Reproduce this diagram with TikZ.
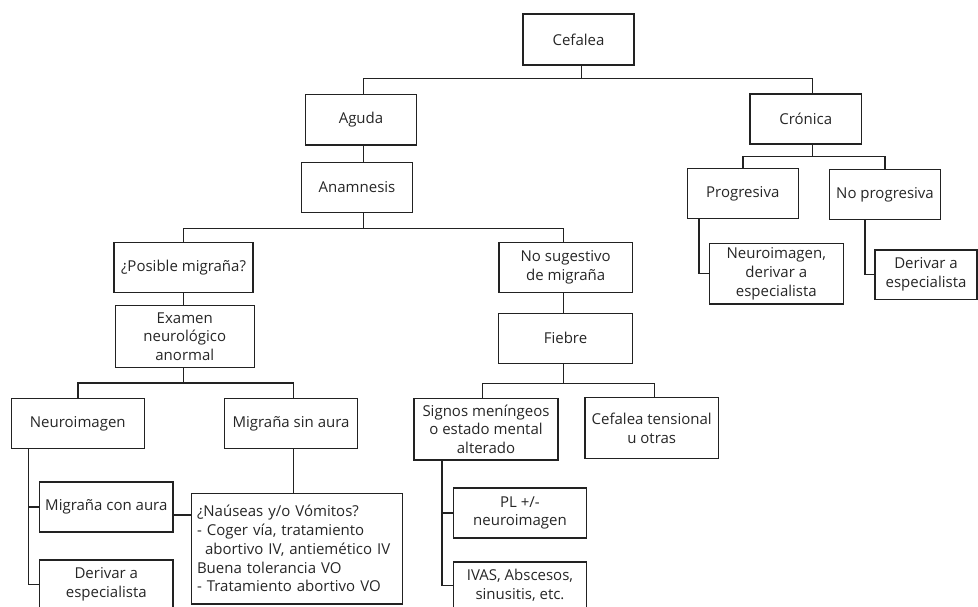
\documentclass[tikz,border=0pt]{standalone}
\usepackage{fontspec}
\setmainfont{Open Sans}
\definecolor{linec}{HTML}{222222}
\definecolor{textc}{HTML}{262626}
\begin{document}
\begin{tikzpicture}[x=1pt,y=-1pt,
  box/.style={draw=linec, line width=1.5pt, rectangle, inner sep=1pt, align=center,
    font=\fontsize{15}{18.7}\selectfont, text=textc},
  conn/.style={draw=linec, line width=1.4pt}]
\useasboundingbox (0,0) rectangle (978,607);
\clip (0,0) rectangle (978,607);
% nodes
\node[box, minimum width=111pt, minimum height=51pt] (cef) at (578.5,39.5) {Cefalea};
\node[box, minimum width=111.4pt, minimum height=50.3pt] (agu) at (361,119.8) {Aguda};
\node[box, minimum width=111.4pt, minimum height=50pt] (ana) at (357,187.3) {Anamnesis};
\node[box, minimum width=139pt, minimum height=50.4pt] (pos) at (183.5,267.5) {¿Posible migraña?};
\node[box, minimum width=133.3pt, minimum height=50pt] (nos) at (565.7,267.3) {No sugestivo\\de migraña};
\node[box, minimum width=111.7pt, minimum height=50pt] (cro) at (805.8,119) {Crónica};
\node[box, minimum width=111pt, minimum height=50pt] (pro) at (742.8,193.7) {Progresiva};
\node[box, minimum width=111.4pt, minimum height=50pt] (npr) at (885,194.3) {No progresiva};
\node[box, minimum width=134pt, minimum height=60.7pt] (nde) at (776.3,273.7) {Neuroimagen,\\derivar a\\especialista};
\node[box, minimum width=102pt, minimum height=49.3pt] (der2) at (926,274.6) {Derivar a\\especialista};
\node[box, minimum width=139pt, minimum height=61.6pt] (exa) at (184.8,336.5) {Examen\\neurológico\\anormal};
\node[box, minimum width=133pt, minimum height=50.4pt] (neu) at (77.8,423.5) {Neuroimagen};
\node[box, minimum width=133.4pt, minimum height=50.4pt] (msa) at (291,423.5) {Migraña sin aura};
\node[box, minimum width=133.3pt, minimum height=50pt] (mca) at (106.3,507) {Migraña con aura};
\node[box, minimum width=133.3pt, minimum height=49pt] (der1) at (106.3,584.5) {Derivar a\\especialista};
\node[box, minimum width=210.6pt, minimum height=110.7pt, align=left, text width=200pt, inner sep=4pt] (nau) at (297,548.7)
  {¿Naúseas y/o Vómitos?\\- Coger vía, tratamiento\\\hspace*{8pt}abortivo IV, antiemético IV\\Buena tolerancia VO\\- Tratamiento abortivo VO};
\node[box, minimum width=133.6pt, minimum height=50pt] (fie) at (565.5,338.3) {Fiebre};
\node[box, minimum width=144pt, minimum height=61.7pt] (sig) at (486,429.2) {Signos meníngeos\\o estado mental\\alterado};
\node[box, minimum width=133.3pt, minimum height=61pt] (cet) at (651.7,428.2) {Cefalea tensional\\u otras};
\node[box, minimum width=133.4pt, minimum height=50pt] (pl) at (520,513) {PL +/-\\neuroimagen};
\node[box, minimum width=133.4pt, minimum height=47.3pt] (iva) at (520,585.4) {IVAS, Abscesos,\\sinusitis, etc.};
% helper coordinates
\coordinate (yA) at (0,78.7);
\coordinate (yB) at (0,228.3);
\coordinate (yC) at (0,383);
\coordinate (yD) at (0,383.3);
\coordinate (yE) at (0,156.3);
\coordinate (cefS) at ([xshift=3pt]cef.south);
\coordinate (aguN) at ([xshift=2.3pt]agu.north);
\coordinate (aguS) at ([xshift=2.3pt]agu.south);
\coordinate (croN) at ([xshift=6.5pt]cro.north);
\coordinate (croS) at ([xshift=6.5pt]cro.south);
\coordinate (nosN) at ([xshift=-2.4pt]nos.north);
\coordinate (nosS) at ([xshift=-2.4pt]nos.south);
\coordinate (msaN) at ([xshift=2.3pt]msa.north);
\coordinate (msaS) at ([xshift=2.3pt]msa.south);
\coordinate (sigN) at ([xshift=-3.3pt]sig.north);
\coordinate (cetN) at ([xshift=2.6pt]cet.north);
\coordinate (mcaE) at ([yshift=-8pt]mca.east);
\coordinate (neuT) at (28.7,0);
\coordinate (sigT) at (442,0);
\coordinate (proT) at (699,0);
\coordinate (nprT) at (865,0);
% connectors
\draw[conn] (cefS) -- (cefS |- yA);
\draw[conn] (aguN) |- (croN |- yA) -- (croN);
\draw[conn] (aguS) -- (aguS |- ana.north);
\draw[conn] (aguS |- ana.south) -- (aguS |- yB);
\draw[conn] (pos.north) |- (nosN |- yB) -- (nosN);
\draw[conn] (pos.south) -- (pos.south |- exa.north);
\draw[conn] (pos.south |- exa.south) -- (pos.south |- yC);
\draw[conn] (neu.north) |- (msaN |- yC) -- (msaN);
\draw[conn] (neuT |- neu.south) |- (der1.west);
\draw[conn] (neuT |- mca.west) -- (mca.west);
\draw[conn] (msaS) -- (msaS |- nau.north);
\draw[conn] (mcaE) -- (mcaE -| nau.west);
\draw[conn] (nosS) -- (nosS |- fie.north);
\draw[conn] (nosS |- fie.south) -- (nosS |- yD);
\draw[conn] (sigN) |- (cetN |- yD) -- (cetN);
\draw[conn] (sigT |- sig.south) |- (iva.west);
\draw[conn] (sigT |- pl.west) -- (pl.west);
\draw[conn] (croS) -- (croS |- yE);
\draw[conn] (pro.north) |- (npr.north |- yE) -- (npr.north);
\draw[conn] (proT |- pro.south) |- (nde.west);
\draw[conn] (nprT |- npr.south) |- (der2.west);
\end{tikzpicture}
\end{document}
